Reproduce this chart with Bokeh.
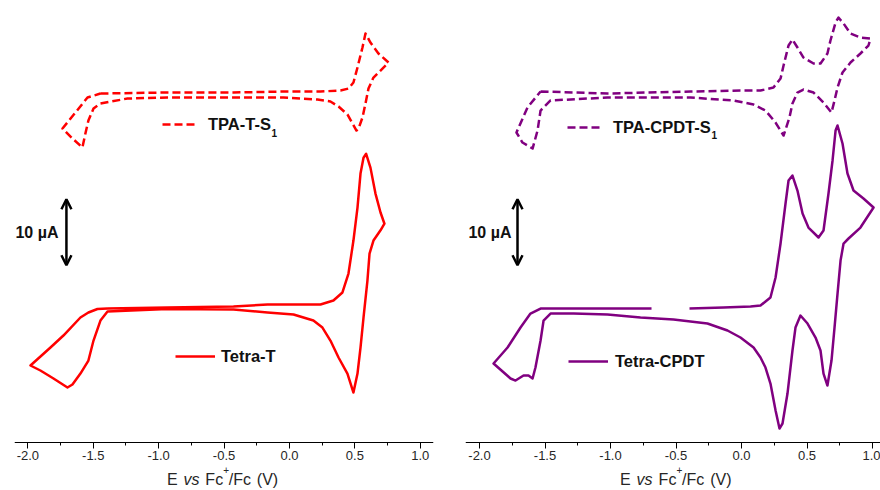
from bokeh.plotting import figure
from bokeh.layouts import row
from bokeh.models import (Range1d, SingleIntervalTicker, PrintfTickFormatter, Label,
                          Arrow, OpenHead, Legend, LegendItem, LinearAxis)
from bokeh.embed import file_html
from bokeh.resources import INLINE

# ---------------- data (E in V vs Fc+/Fc, I in microamp) ----------------
tetra_t_E = [-1.391, -0.933, -0.428, -0.168, 0.237, 0.336, 0.405, 0.451, 0.489, 0.520,
             0.543, 0.566, 0.586, 0.619, 0.657, 0.696, 0.726, 0.696, 0.642, 0.612,
             0.596, 0.566, 0.543, 0.520, 0.489, 0.443, 0.375, 0.313, 0.252, 0.183,
             0.031, -0.168, -0.428, -0.933, -1.391, -1.445, -1.498, -1.537, -1.598, -1.659,
             -1.697, -1.804, -1.904, -1.980, -1.827, -1.728, -1.598, -1.537, -1.468, -1.391]
tetra_t_I = [0.15, 0.30, 0.45, 0.76, 0.76, 1.36, 2.58, 5.45, 10.45, 15.45,
             20.6, 23.0, 23.6, 21.5, 17.6, 14.7, 13.0, 12.0, 10.45, 8.48,
             4.39, -1.21, -5.76, -9.70, -12.58, -9.70, -7.27, -4.70, -2.73, -1.67,
             -0.76, -0.45, 0.0, 0.08, -0.30, -1.67, -4.70, -7.73, -9.70, -11.36,
             -11.82, -10.45, -9.24, -8.48, -5.76, -3.94, -1.21, -0.45, 0.08, 0.15]

tpa_t_E = [-1.445, -0.933, -0.428, -0.046, 0.237, 0.390, 0.451, 0.489, 0.520, 0.558,
           0.581, 0.619, 0.680, 0.757, 0.696, 0.642, 0.604, 0.581, 0.558, 0.528,
           0.512, 0.482, 0.443, 0.375, 0.313, 0.214, -0.046, -0.428, -0.933, -1.239,
           -1.445, -1.498, -1.537, -1.560, -1.583, -1.659, -1.735, -1.636, -1.544, -1.445]
tpa_t_I = [-0.27, -0.12, -0.12, 0.03, 0.03, 0.18, 0.48, 1.39, 3.67, 6.70,
           8.82, 7.45, 5.79, 4.42, 3.21, 2.15, 0.48, -1.79, -3.91, -5.58,
           -5.88, -4.82, -3.45, -2.24, -1.48, -1.18, -0.88, -0.88, -0.88, -1.03,
           -1.79, -2.55, -4.36, -6.33, -8.45, -7.09, -5.58, -3.15, -0.88, -0.27]

tetra_cpdt_E = [-0.397, -0.137, 0.069, 0.145, 0.221, 0.260, 0.298, 0.336, 0.359, 0.389,
                0.427, 0.466, 0.511, 0.588, 0.626, 0.664, 0.695, 0.718, 0.733, 0.771,
                0.809, 0.855, 0.931, 1.008, 0.908, 0.817, 0.779, 0.756, 0.733, 0.710,
                0.687, 0.656, 0.626, 0.603, 0.565, 0.504, 0.450, 0.412, 0.389, 0.351,
                0.313, 0.290, 0.260, 0.221, 0.183, 0.145, 0.092, -0.008, -0.107, -0.260,
                -0.519, -0.771, -1.023, -1.282,
                -1.458, -1.511, -1.534, -1.573, -1.595, -1.626, -1.664, -1.725, -1.763, -1.893,
                -1.786, -1.687, -1.611, -1.534, -1.282, -0.687]
tetra_cpdt_I = [0.15, 0.30, 0.45, 0.61, 1.82, 4.85, 10.0, 16.06, 19.55, 20.30,
                18.03, 14.55, 12.42, 10.91, 11.97, 17.58, 22.58, 27.12, 27.88, 25.15,
                20.61, 18.03, 16.82, 15.45, 12.42, 10.76, 10.0, 7.42, 2.42, -2.73,
                -7.73, -11.52, -9.70, -6.21, -4.24, -2.12, -0.91, -2.73, -6.21, -12.73,
                -17.27, -18.03, -15.30, -11.21, -8.79, -7.27, -5.76, -4.24, -3.18, -2.12,
                -1.52, -1.21, -0.76, -0.61,
                -0.61, -1.67, -4.70, -8.79, -10.45, -10.0, -10.0, -10.76, -10.45, -8.18,
                -5.76, -2.73, -0.61, 0.15, 0.15, 0.15]

tpa_cpdt_E = [-1.534, -1.023, -0.389, -0.008, 0.145, 0.244, 0.298, 0.321, 0.359, 0.389,
              0.427, 0.473, 0.550, 0.603, 0.656, 0.679, 0.718, 0.740, 0.779, 0.832,
              0.908, 0.985, 0.969, 0.908, 0.832, 0.771, 0.733, 0.710, 0.687, 0.626,
              0.550, 0.473, 0.427, 0.389, 0.366, 0.321, 0.260, 0.183, 0.092, -0.061,
              -0.389, -1.023, -1.458, -1.534, -1.557, -1.595, -1.672, -1.718, -1.634, -1.534]
tpa_cpdt_I = [0.03, -0.27, 0.03, 0.18, 0.18, 0.64, 2.0, 3.97, 7.0, 7.91,
              6.70, 5.18, 4.27, 4.27, 5.79, 7.76, 10.48, 11.24, 10.33, 8.82,
              8.21, 8.06, 7.0, 5.79, 4.42, 2.91, 0.64, -1.33, -3.15, -1.64,
              -0.12, 0.33, -0.12, -1.79, -3.91, -6.64, -4.67, -2.85, -1.94, -1.33,
              -0.88, -0.88, -1.33, -2.85, -5.88, -8.61, -7.70, -6.18, -2.39, 0.03]

offset_dashed = 33.0      # vertical stacking offset of the S1 traces (uA)
scale_bar = 10.0          # uA
axis_level = -20.15       # current level at which the E axis is drawn (uA)

RED = "#FF0000"
PURPLE = "#800080"
FONT = "Liberation Sans"
PX_PER_V = 130.9


def make_panel(width, border_left, border_right, x_range):
    p = figure(width=width, height=490, x_range=x_range, y_range=Range1d(-27.42, 46.82),
               output_backend="svg", toolbar_location=None, y_axis_location=None,
               x_axis_location=None, min_border_left=border_left,
               min_border_right=border_right, min_border_top=0, min_border_bottom=0,
               title=None)
    p.outline_line_color = None
    p.grid.visible = False
    ax = LinearAxis(fixed_location=axis_level)
    ax.ticker = SingleIntervalTicker(interval=0.5, num_minor_ticks=2)
    ax.formatter = PrintfTickFormatter(format="%.1f")
    ax.axis_line_color = "#000000"
    ax.axis_line_width = 1
    ax.major_tick_out = 6
    ax.major_tick_in = 0
    ax.minor_tick_out = 3
    ax.minor_tick_in = 0
    ax.major_tick_line_color = "#000000"
    ax.minor_tick_line_color = "#000000"
    ax.major_label_text_font = FONT
    ax.major_label_text_font_size = "13px"
    ax.major_label_text_color = "#262626"
    ax.major_label_standoff = 2
    p.add_layout(ax, "below")
    return p


def add_title(p, x_start):
    # pieces of "E vs Fc+/Fc (V)" with their pixel offsets from the start
    parts = [("E", "normal", "16px", -25.76, 0.0),
             ("vs", "italic", "16px", -25.76, 16.5),
             ("Fc", "normal", "16px", -25.76, 38.5),
             ("+", "normal", "10px", -24.3, 56.5),
             ("/Fc", "normal", "16px", -25.76, 62.0),
             ("(V)", "normal", "16px", -25.76, 90.0)]
    for txt, style, size, y, dx in parts:
        p.add_layout(Label(x=x_start + dx / PX_PER_V, y=y, text=txt, text_font=FONT,
                           text_font_style=style, text_font_size=size,
                           text_color="#262626", text_align="left",
                           text_baseline="alphabetic"))


def add_scale(p, x, xlab):
    p.add_layout(Arrow(x_start=x, y_start=6.7, x_end=x, y_end=6.7 + scale_bar,
                       line_width=2.5, line_color="black",
                       start=OpenHead(size=10, line_width=2.5, line_color="black"),
                       end=OpenHead(size=10, line_width=2.5, line_color="black")))
    p.add_layout(Label(x=xlab, y=11.7, text="10 \u00b5A", text_font=FONT,
                       text_font_style="bold", text_font_size="16px", text_color="#111111",
                       text_align="right", text_baseline="middle"))


def add_legend(p, renderer, text, loc, gw, standoff):
    lg = Legend(items=[LegendItem(label=text, renderers=[renderer])], location=loc,
                orientation="vertical", padding=0, margin=0, glyph_width=gw,
                glyph_height=20, label_height=20, label_standoff=standoff,
                border_line_color=None, background_fill_alpha=0,
                label_text_font=FONT, label_text_font_style="bold",
                label_text_font_size="16.5px", label_text_color="#111111")
    p.add_layout(lg, "center")


LEG_DY = 48

# ---------------- left panel ----------------
p1 = make_panel(440, 14, 7, Range1d(-2.102, 1.101))
r1 = p1.line(tpa_t_E, [v + offset_dashed for v in tpa_t_I], line_color=RED, line_width=2.5,
             line_dash="8 4", line_join="round")
r2 = p1.line(tetra_t_E, tetra_t_I, line_color=RED, line_width=2.5, line_join="round")
add_legend(p1, r1, "TPA-T-S", (148, 308 + LEG_DY), 35, 11)
add_legend(p1, r2, "Tetra-T", (161, 76 + LEG_DY), 40, 6)
p1.add_layout(Label(x=-0.138, y=26.8, text="1", text_font=FONT, text_font_style="bold",
                    text_font_size="10px", text_color="#111111", text_baseline="middle"))
add_scale(p1, -1.705, -1.766)
add_title(p1, -0.937)

# ---------------- right panel ----------------
p2 = make_panel(440, 25, 0, Range1d(-2.107, 1.061))
r3 = p2.line(tpa_cpdt_E, [v + offset_dashed for v in tpa_cpdt_I], line_color=PURPLE,
             line_width=2.5, line_dash="8 4", line_join="round")
r4 = p2.line(tetra_cpdt_E, tetra_cpdt_I, line_color=PURPLE, line_width=2.5, line_join="round")
add_legend(p2, r3, "TPA-CPDT-S", (102, 305 + LEG_DY), 36, 10)
add_legend(p2, r4, "Tetra-CPDT", (103, 71 + LEG_DY), 40, 7)
p2.add_layout(Label(x=-0.229, y=26.5, text="1", text_font=FONT, text_font_style="bold",
                    text_font_size="10px", text_color="#111111", text_baseline="middle"))
add_scale(p2, -1.710, -1.756)
add_title(p2, -0.927)

layout = row(p1, p2, spacing=0)
open("out.html", "w").write(file_html(layout, INLINE))
